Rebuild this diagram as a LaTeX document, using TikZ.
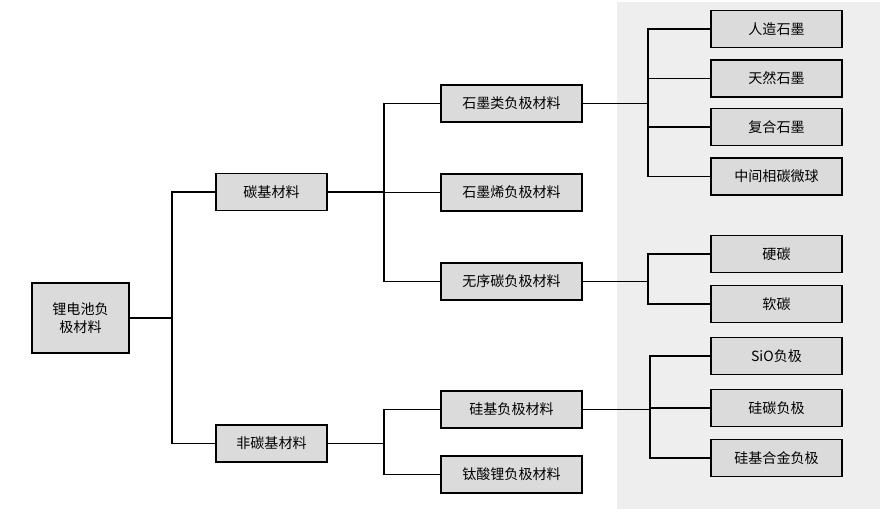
\documentclass[tikz,border=0pt]{standalone}
\usepackage{fontspec}
\setmainfont{Noto Sans CJK SC}
\begin{document}
\begin{tikzpicture}[x=0.02cm,y=-0.02cm,
  box/.style={draw=black,fill=gray!28,thick,inner sep=0pt,minimum height=0.74cm,font=\fontsize{8}{10}\selectfont},
  lbox/.style={box,minimum width=2.22cm},
  mbox/.style={box,minimum width=2.82cm},
  rbox/.style={box,minimum width=2.62cm},
  conn/.style={draw=black,thick}]
\useasboundingbox (0,0) rectangle (880,509);
\fill[gray!13] (617,2) rectangle (880,509);
% root and levels
\node[box,minimum width=1.94cm,minimum height=1.4cm,align=center] (root) at (80.5,318) {锂电池负\\极材料};
\node[lbox] (c) at (271.5,192) {碳基材料};
\node[lbox] (nc) at (271.5,443.5) {非碳基材料};
\node[mbox] (g) at (511.5,103.5) {石墨类负极材料};
\node[mbox] (ge) at (511.5,192.5) {石墨烯负极材料};
\node[mbox] (dc) at (511.5,281.5) {无序碳负极材料};
\node[mbox] (si) at (511.5,409.5) {硅基负极材料};
\node[mbox] (ti) at (511.5,474.5) {钛酸锂负极材料};
\node[rbox] (g1) at (776.5,29) {人造石墨};
\node[rbox] (g2) at (776.5,78.5) {天然石墨};
\node[rbox] (g3) at (776.5,127) {复合石墨};
\node[rbox] (g4) at (776.5,176.5) {中间相碳微球};
\node[rbox] (d1) at (776.5,254) {硬碳};
\node[rbox] (d2) at (776.5,304) {软碳};
\node[rbox] (s1) at (776.5,356) {SiO负极};
\node[rbox] (s2) at (776.5,408) {硅碳负极};
\node[rbox] (s3) at (776.5,458) {硅基合金负极};
% connectors
\foreach \t in {c,nc} \draw[conn] (root.east) -- (172,318) |- (\t.west);
\foreach \t in {g,ge,dc} \draw[conn] (c.east) -- (384,192) |- (\t.west);
\foreach \t in {si,ti} \draw[conn] (nc.east) -- (384,443.5) |- (\t.west);
\foreach \t in {g1,g2,g3,g4} \draw[conn] (g.east) -- (648,103.5) |- (\t.west);
\foreach \t in {d1,d2} \draw[conn] (dc.east) -- (648,281.5) |- (\t.west);
\foreach \t in {s1,s2,s3} \draw[conn] (si.east) -- (650,409.5) |- (\t.west);
\end{tikzpicture}
\end{document}
